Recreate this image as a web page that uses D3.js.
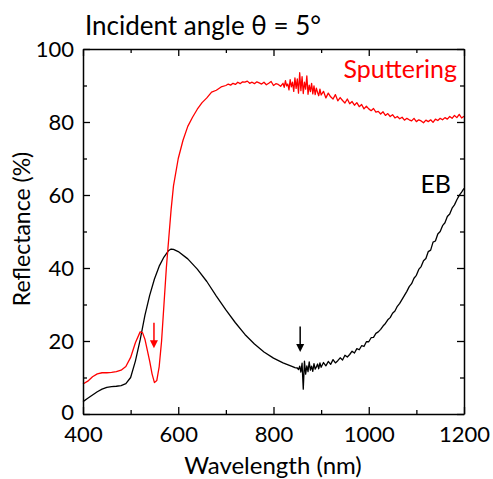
<!DOCTYPE html>
<html><head><meta charset="utf-8">
<script src="https://cdn.jsdelivr.net/npm/d3@7"></script>
<style>body{margin:0;background:#fff}text{font-family:Lato,"Open Sans",sans-serif}</style>
</head><body><svg id="c" width="493" height="479"></svg>
<script>
// Data (wavelength nm, reflectance %)
const sputterWl = [400,410,420,430,440,450,460,470,480,490,500,510,520,525,530,540,545,550,555,560,565,570,575,580,585,590,600,610,620,630,640,650,660,670,680,690,700,705,710,715,720,725,730,735,
740,745,750,755,760,765,770,775,780,785,790,795,800,805,810,815,820,
822.5,825,827.5,830,832.5,835,837.5,840,842.5,845,847.5,850,852.5,855,857.5,860,862.5,865,867.5,870,872.5,875,877.5,880,882.5,885,887.5,890,892.5,895,897.5,900,
905,910,915,920,925,930,935,940,945,950,955,960,965,970,975,980,985,990,995,1000,1005,1010,1015,1020,1025,1030,1035,1040,1045,1050,1055,1060,1065,1070,1075,1080,1085,1090,1095,1100,1105,1110,1115,1120,1125,1130,1135,1140,1145,1150,1155,1160,1165,1170,1175,1180,1185,1190,1195,1200];
const sputterR = [8.2,9.0,10.2,11.0,11.3,11.3,11.4,11.6,12.0,13.0,15.5,19.5,22.5,22.3,20.5,14.5,11.0,8.6,9.2,13.0,20.0,30.0,40.0,48.0,56.0,62.5,70.0,75.0,78.8,81.3,83.5,85.3,86.6,88.2,88.7,89.6,90.0,90.4,90.1,90.6,90.3,90.9,90.5,91.0,
90.9,91.2,90.6,90.9,90.5,91.0,90.7,90.4,90.9,90.2,90.6,91.1,90.0,90.5,90.3,89.8,90.6,
89.5,91.3,89.9,90.4,88.8,91.6,89.6,90.9,88.4,92.1,89.2,91.8,87.9,93.5,88.6,92.4,87.8,90.9,89.0,92.6,87.6,90.1,88.3,90.6,87.7,89.9,87.5,89.3,88.1,87.2,89.0,87.4,
88.4,86.6,87.9,86.9,86.3,87.5,85.8,86.7,85.9,85.2,86.3,85.0,85.6,84.6,85.3,84.2,84.8,83.6,84.3,83.6,83.1,83.7,82.7,82.9,82.2,82.8,81.8,82.3,81.5,82.0,81.1,81.5,80.9,81.3,80.5,81.0,80.6,80.3,81.0,80.1,80.6,80.3,79.8,80.5,80.1,80.6,79.9,80.8,80.4,81.0,80.6,81.2,80.8,81.5,81.0,81.8,81.2,82.1,81.1,81.6];
const ebWl = [400,410,420,430,440,450,460,470,480,490,500,510,520,530,540,550,560,570,580,585,590,600,620,640,660,680,700,720,740,760,780,800,820,840,845,
850,852.5,855,857.5,860,862.5,865,867.5,870,872.5,875,877.5,880,882.5,885,887.5,890,892.5,895,897.5,900,
905,910,915,920,925,930,935,940,945,950,955,960,965,970,975,980,985,990,995,1000,1005,1010,1015,1020,1025,1030,1035,1040,1045,1050,1055,1060,1065,1070,1075,1080,1085,1090,1095,1100,1105,1110,1115,1120,1125,1130,1135,1140,1145,1150,1155,1160,1165,1170,1175,1180,1185,1190,1195,1200];
const ebR = [3.4,4.3,5.2,6.1,6.8,7.3,7.5,7.6,7.8,8.3,10.0,14.5,20.3,27.0,32.5,37.0,40.5,43.0,44.8,45.2,45.1,44.5,42.5,39.7,36.3,32.3,28.5,25.0,21.8,19.2,17.0,15.3,14.0,13.0,12.7,
12.6,12.2,13.1,11.5,13.9,6.8,14.5,10.9,13.2,11.6,14.3,12.0,13.1,11.7,13.8,12.3,12.9,13.7,12.4,14.0,12.8,
14.1,13.2,14.4,13.6,14.9,14.0,14.6,15.4,14.8,16.1,15.6,16.3,17.2,16.7,17.9,17.6,18.7,18.5,19.8,19.8,20.9,21.0,22.1,22.5,23.2,24.1,24.8,25.8,26.4,27.6,28.2,29.5,30.3,31.4,32.5,33.6,34.9,35.7,37.2,38.0,39.6,40.4,42.0,42.6,44.5,44.9,47.1,47.4,49.3,50.0,51.6,52.4,54.1,54.8,56.4,57.3,58.7,59.9,60.8,61.8];
const xTicks = [400,600,800,1000,1200];
const yTicks = [0,20,40,60,80,100];
const arrows = [{wl:549, from:25, to:18, color:"#ff0000"},{wl:856, from:24, to:17, color:"#000"}];

const svg = d3.select("#c");
const L=83, R=464, T=49, B=414;
const x = d3.scaleLinear().domain([400,1200]).range([L,R]);
const y = d3.scaleLinear().domain([0,100]).range([B,T]);

const g = svg.append("g");
const line = d3.line().x(d=>x(d[0])).y(d=>y(d[1]));
g.append("path").datum(ebWl.map((w,i)=>[w,ebR[i]])).attr("d",line)
  .attr("fill","none").attr("stroke","#000").attr("stroke-width",1.3).attr("stroke-linejoin","round");
g.append("path").datum(sputterWl.map((w,i)=>[w,sputterR[i]])).attr("d",line)
  .attr("fill","none").attr("stroke","#ff0000").attr("stroke-width",1.3).attr("stroke-linejoin","round");

// arrows
arrows.forEach(a=>{
  const ax=x(a.wl), y1=y(a.from), y2=y(a.to);
  g.append("line").attr("x1",ax).attr("x2",ax).attr("y1",y1).attr("y2",y2-7)
    .attr("stroke",a.color).attr("stroke-width",1.5);
  g.append("path").attr("d",`M${ax-4},${y2-8}L${ax+4},${y2-8}L${ax},${y2}Z`).attr("fill",a.color);
});

// axes (ticks inward)
const minorX = d3.range(400,1201,100), minorY = d3.range(0,101,10);
function axisStyle(sel){sel.selectAll("path.domain").attr("stroke","#000").attr("stroke-width",1.5);
  sel.selectAll(".tick line").attr("stroke","#000").attr("stroke-width",1.3);}
const fs = "22px";
const ax1 = svg.append("g").attr("transform",`translate(0,${B})`)
  .call(d3.axisBottom(x).tickValues(minorX).tickSizeInner(-4).tickSizeOuter(0).tickFormat(""));
axisStyle(ax1);
ax1.selectAll(".tick").filter(d=>xTicks.includes(d)).select("line").attr("y2",-7);
ax1.selectAll(".tick").filter(d=>xTicks.includes(d)).append("text")
  .attr("y",28).attr("text-anchor","middle").attr("fill","#000").style("font-size",fs).text(d=>d);
const ax2 = svg.append("g").attr("transform",`translate(0,${T})`)
  .call(d3.axisTop(x).tickValues(minorX).tickSizeInner(-4).tickSizeOuter(0).tickFormat(""));
axisStyle(ax2);
ax2.selectAll(".tick").filter(d=>xTicks.includes(d)).select("line").attr("y2",7);
const ay1 = svg.append("g").attr("transform",`translate(${L},0)`)
  .call(d3.axisLeft(y).tickValues(minorY).tickSizeInner(-4).tickSizeOuter(0).tickFormat(""));
axisStyle(ay1);
ay1.selectAll(".tick").filter(d=>yTicks.includes(d)).select("line").attr("x2",7);
ay1.selectAll(".tick").filter(d=>yTicks.includes(d)).append("text")
  .attr("x",-9).attr("dy",d=>d===0?"0.25em":"0.35em").attr("text-anchor","end").attr("fill","#000").style("font-size",fs).text(d=>d);
const ay2 = svg.append("g").attr("transform",`translate(${R},0)`)
  .call(d3.axisRight(y).tickValues(minorY).tickSizeInner(-4).tickSizeOuter(0).tickFormat(""));
axisStyle(ay2);
ay2.selectAll(".tick").filter(d=>yTicks.includes(d)).select("line").attr("x2",-7);

// labels
svg.append("text").attr("x",85).attr("y",35).style("font-size","26px").attr("fill","#000").text("Incident angle θ = 5°");
svg.append("text").attr("x",457).attr("y",78).attr("text-anchor","end").style("font-size","25px").attr("fill","#ff0000").text("Sputtering");
svg.append("text").attr("x",451).attr("y",193).attr("text-anchor","end").style("font-size","25px").attr("fill","#000").text("EB");
svg.append("text").attr("x",273).attr("y",474).attr("text-anchor","middle").style("font-size","24px").attr("fill","#000").text("Wavelength (nm)");
svg.append("text").attr("transform","translate(30,229) rotate(-90)").attr("text-anchor","middle").style("font-size","23px").attr("fill","#000").text("Reflectance (%)");
</script></body></html>
